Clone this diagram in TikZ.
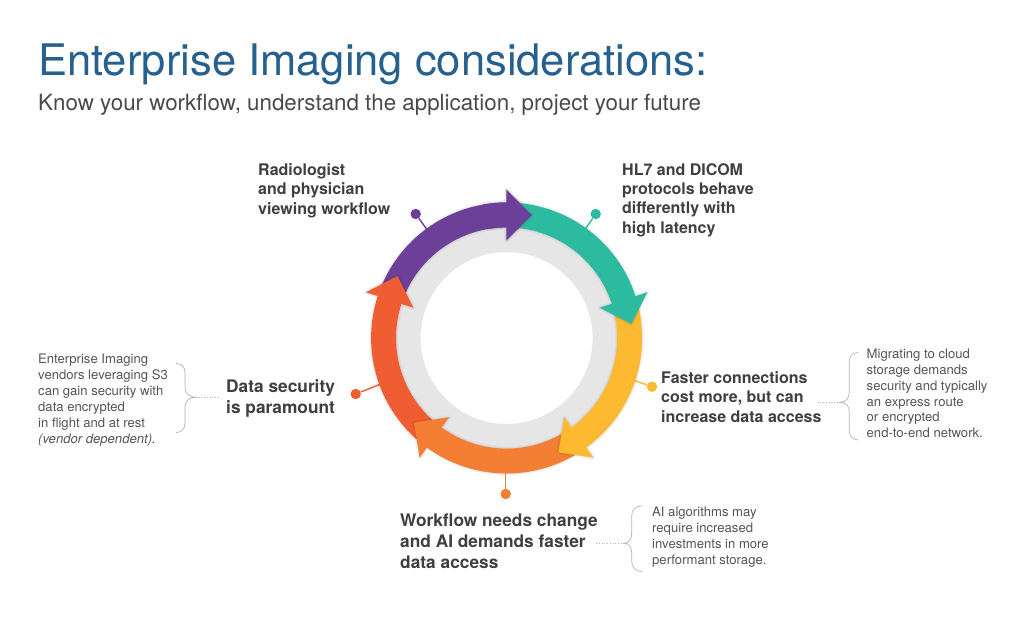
\documentclass[tikz,border=0pt]{standalone}
\usepackage{fontspec}
\setmainfont{TeX Gyre Heros}
\definecolor{titleblue}{HTML}{25608F}
\definecolor{subgrey}{HTML}{4A4A4A}
\definecolor{boldgrey}{HTML}{3F3F3F}
\definecolor{smallgrey}{HTML}{555555}
\definecolor{bracegrey}{HTML}{B5B5B5}
\definecolor{ringgrey}{HTML}{E6E6E6}
\definecolor{cpurple}{HTML}{6C4098}
\definecolor{cgreen}{HTML}{2DBBA0}
\definecolor{cyellow}{HTML}{FDB92F}
\definecolor{corange}{HTML}{F47F34}
\definecolor{cred}{HTML}{F15D32}
\newcommand{\ringpath}[1]{(#1+68:110.6) arc[start angle=#1+68,end angle=#1,radius=110.6] -- (#1:98) -- (#1-11.6:125.5) -- (#1:148) -- (#1:135.5) arc[start angle=#1,end angle=#1+68,radius=135.5] -- cycle}
\newcommand{\ringarrow}[2]{%
  \draw[black,opacity=.02,line width=5pt,line join=round] \ringpath{#1};
  \draw[black,opacity=.03,line width=3pt,line join=round] \ringpath{#1};
  \draw[black,opacity=.04,line width=1.2pt,line join=round] \ringpath{#1};
  \fill[#2] \ringpath{#1};}
\tikzset{
  titletext/.style={anchor=base west,inner sep=0pt,text=titleblue,font=\fontsize{43.5}{50}\selectfont},
  subtext/.style={anchor=base west,inner sep=0pt,text=subgrey,font=\fontsize{22.35}{26}\selectfont},
  boldlabel/.style={anchor=north west,inner sep=0pt,align=left,text=boldgrey,font=\bfseries\fontsize{16}{19.2}\selectfont},
  bigbold/.style={anchor=north west,inner sep=0pt,align=left,text=boldgrey,font=\bfseries\fontsize{17.3}{21}\selectfont},
  smalltext/.style={anchor=north west,inner sep=0pt,align=left,text=smallgrey,font=\fontsize{13.1}{15.9}\selectfont},
  stemline/.style={line width=1.4pt},
  stemdot/.style={circle,inner sep=0pt,minimum size=10.4pt},
  bracecurve/.style={draw=bracegrey,line width=.7pt,line cap=round},
  dotlink/.style={draw=bracegrey,line width=.7pt,dotted},
}
\begin{document}
\begin{tikzpicture}[x=1pt,y=-1pt]
\useasboundingbox (0,0) rectangle (1024,638);
\fill[white] (0,0) rectangle (1024,638);
\node[titletext] (title) at (38,75) {Enterprise Imaging considerations:};
\node[subtext] (subtitle) at (38,110) {Know your workflow, understand the application, project your future};
% stems
\node[stemdot,fill=cpurple] (dp) at (415.7,214) {};
\node[stemdot,fill=cgreen] (dg) at (595.7,214) {};
\node[stemdot,fill=cyellow] (dy) at (652,386.7) {};
\node[stemdot,fill=corange] (do) at (505.7,494) {};
\node[stemdot,fill=cred] (dr) at (355.7,394) {};
\coordinate (sp) at (428,231);
\coordinate (sg) at (584,231);
\coordinate (sy) at (633,380);
\coordinate (so) at (505.7,470);
\coordinate (sr) at (381,384);
\draw[stemline,cpurple] (dp) -- (sp);
\draw[stemline,cgreen] (dg) -- (sg);
\draw[stemline,cyellow] (dy) -- (sy);
\draw[stemline,corange] (do) -- (so);
\draw[stemline,cred] (dr) -- (sr);
% ring
\begin{scope}[shift={(506.6,338)},y=1pt]
\fill[ringgrey,even odd rule] (0,0) circle[radius=112] (0,0) circle[radius=86];
\ringarrow{90}{cpurple}
\ringarrow{162}{cred}
\ringarrow{234}{corange}
\ringarrow{306}{cyellow}
\ringarrow{18}{cgreen}
\begin{scope}
\clip (0,0) -- (100:220) -- (60:220) -- cycle;
\ringarrow{90}{cpurple}
\end{scope}
\end{scope}
% bold labels
\node[boldlabel] (lab1) at (258,163.5) {Radiologist\\and physician\\viewing workflow};
\node[boldlabel] (lab2) at (622,163.5) {HL7 and DICOM\\protocols behave\\differently with\\high latency};
\node[boldlabel] (lab3) at (661,371.5) {Faster connections\\cost more, but can\\increase data access};
\node[bigbold] (lab4) at (400,514) {Workflow needs change\\and AI demands faster\\data access};
\node[bigbold] (lab5) at (226,379.8) {Data security\\is paramount};
% small texts
\node[smalltext] (note1) at (38,353.8) {Enterprise Imaging\\vendors leveraging S3\\can gain security with\\data encrypted\\in flight and at rest\\\textit{(vendor dependent).}};
\node[smalltext] (note2) at (866.5,348.6) {Migrating to cloud\\storage demands\\security and typically\\an express route\\or encrypted\\end-to-end network.};
\node[smalltext] (note3) at (652,507.2) {AI algorithms may\\require increased\\investments in more\\performant storage.};
% braces
\coordinate (bl) at (196,397.3);
\coordinate (blend) at (218,397.3);
\draw[bracecurve] (176,363.3) .. controls (182,364) and (185,367) .. (185,373) -- (185,387) .. controls (185,393) and (189,397.3) .. (bl) .. controls (189,397.3) and (185,401) .. (185,407) -- (185,423) .. controls (185,429) and (182,432) .. (176,432.7);
\draw[dotlink] (bl) -- (blend);
\coordinate (br) at (840,402.3);
\coordinate (brend) at (817,402.3);
\draw[bracecurve] (858,352.3) .. controls (852,353) and (849.3,356) .. (849.3,362) -- (849.3,392) .. controls (849.3,398) and (846,402.3) .. (br) .. controls (846,402.3) and (849.3,406) .. (849.3,412) -- (849.3,430) .. controls (849.3,436) and (852,439.5) .. (858,440);
\draw[dotlink] (br) -- (brend);
\coordinate (bb) at (624,543.3);
\coordinate (bbend) at (595,543.3);
\draw[bracecurve] (641.7,505.7) .. controls (635,506.5) and (631.7,510) .. (631.7,516) -- (631.7,533) .. controls (631.7,539) and (629,543.3) .. (bb) .. controls (629,543.3) and (631.7,547) .. (631.7,553) -- (631.7,561) .. controls (631.7,567) and (635,571) .. (641.7,571.7);
\draw[dotlink] (bb) -- (bbend);
\end{tikzpicture}
\end{document}
